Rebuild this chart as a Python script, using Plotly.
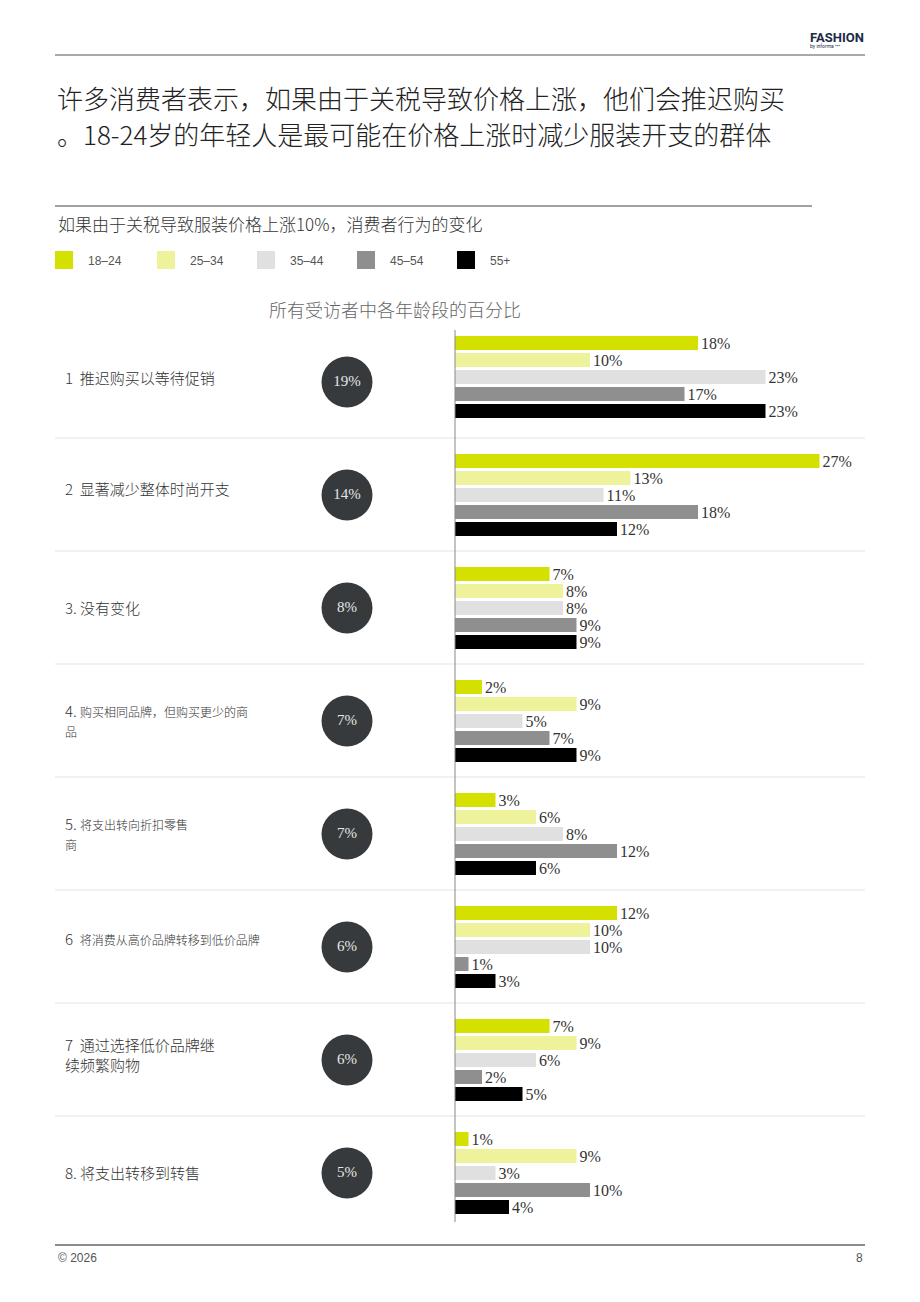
import plotly.graph_objects as go

# ---------------- data ----------------
age_groups = ["18–24", "25–34", "35–44", "45–54", "55+"]
categories = [
    "1  推迟购买以等待促销",
    "2  显著减少整体时尚开支",
    "3. 没有变化",
    "4. 购买相同品牌，但购买更少的商品",
    "5. 将支出转向折扣零售商",
    "6  将消费从高价品牌转移到低价品牌",
    "7  通过选择低价品牌继续频繁购物",
    "8. 将支出转移到转售",
]
overall = [19, 14, 8, 7, 7, 6, 6, 5]
v_18_24 = [18, 27, 7, 2, 3, 12, 7, 1]
v_25_34 = [10, 13, 8, 9, 6, 10, 9, 9]
v_35_44 = [23, 11, 8, 5, 8, 10, 6, 3]
v_45_54 = [17, 18, 9, 7, 12, 1, 2, 10]
v_55p = [23, 12, 9, 9, 6, 3, 5, 4]
series = [v_18_24, v_25_34, v_35_44, v_45_54, v_55p]

# ---------------- style / layout ----------------
W, H = 920, 1302
colors = ["#d3e000", "#edf29b", "#dfe0df", "#8f8f8f", "#000000"]
AX0 = 455          # pixel of the 0% baseline
PX_PER_PCT = 13.5
ROW0 = 382
ROW_STEP = 113
BAR_STEP = 17
BAR_H = 14
CIRCLE_X = 347
row_shift = [-5, 0, 0, 0, 0, 0, 0, 0]
CJK = "Noto Sans CJK SC"
SERIF = "Liberation Serif, Times New Roman, serif"
NARROW = "Liberation Sans Narrow, Liberation Sans, Arial, sans-serif"

centers = [ROW0 + i * ROW_STEP for i in range(len(categories))]

fig = go.Figure()
for j, (name, vals) in enumerate(zip(age_groups, series)):
    ys = [centers[i] + row_shift[i] + (j - 2) * BAR_STEP for i in range(len(vals))]
    fig.add_trace(go.Bar(
        x=vals, y=ys, orientation="h", name=name,
        marker=dict(color=colors[j], line=dict(width=0)),
        width=BAR_H,
        text=[f"{v}%" for v in vals], textposition="outside",
        textfont=dict(family=SERIF, size=16, color="#333333"),
        constraintext="none", cliponaxis=False,
        xaxis="x", yaxis="y", showlegend=False, hoverinfo="skip",
    ))

# overall circles
fig.add_trace(go.Scatter(
    x=[CIRCLE_X] * len(overall), y=centers, mode="markers+text",
    marker=dict(size=51, color="#373a3d", line=dict(width=0)),
    text=[f"{v}%" for v in overall], textposition="middle center",
    textfont=dict(family=SERIF, size=15, color="#e6e6e6"),
    xaxis="x2", yaxis="y", showlegend=False, hoverinfo="skip",
))

shapes = []
annotations = []

# header
shapes.append(dict(type="line", xref="paper", yref="y", x0=55 / W, x1=865 / W, y0=55, y1=55,
                   line=dict(color="#555555", width=1)))
annotations.append(dict(text="<b>FASHION</b>", xref="paper", yref="y", x=866 / W, y=37,
                        xanchor="right", yanchor="middle", showarrow=False,
                        font=dict(family="Roboto, Arial", size=13, color="#1b2a45")))
annotations.append(dict(text="by informa •••", xref="paper", yref="y", x=808 / W, y=46,
                        xanchor="left", yanchor="middle", showarrow=False,
                        font=dict(family="Roboto, Arial", size=5, color="#1b2a45")))

# title
title_lines = ["许多消费者表示，如果由于关税导致价格上涨，他们会推迟购买",
               "。18-24岁的年轻人是最可能在价格上涨时减少服装开支的群体"]
for k, t in enumerate(title_lines):
    annotations.append(dict(text=t, xref="paper", yref="y", x=55 / W, y=97 + k * 36,
                            xanchor="left", yanchor="middle", showarrow=False,
                            font=dict(family=CJK, size=26, color="#222222", weight=300)))

shapes.append(dict(type="line", xref="paper", yref="y", x0=55 / W, x1=812 / W, y0=206, y1=206,
                   line=dict(color="#444444", width=1)))
annotations.append(dict(text="如果由于关税导致服装价格上涨10%，消费者行为的变化", xref="paper", yref="y",
                        x=56 / W, y=223, xanchor="left", yanchor="middle", showarrow=False,
                        font=dict(family=CJK, size=17, color="#333333", weight=300)))

# legend
leg_x = [55, 157, 257, 357, 457]
for j, name in enumerate(age_groups):
    shapes.append(dict(type="rect", xref="paper", yref="y",
                       x0=leg_x[j] / W, x1=(leg_x[j] + 18) / W, y0=251, y1=269,
                       fillcolor=colors[j], line=dict(width=0)))
    annotations.append(dict(text=name, xref="paper", yref="y", x=(leg_x[j] + 31) / W, y=261,
                            xanchor="left", yanchor="middle", showarrow=False,
                            font=dict(family=NARROW, size=12, color="#555555")))

annotations.append(dict(text="所有受访者中各年龄段的百分比", xref="paper", yref="y", x=395 / W, y=309,
                        xanchor="center", yanchor="middle", showarrow=False,
                        font=dict(family=CJK, size=18, color="#666666", weight=300)))

# row labels
S = '<span style="font-size:15px">'
label_text = [
    "1  推迟购买以等待促销",
    "2  显著减少整体时尚开支",
    "3. 没有变化",
    S + "4.</span> <span style=\"font-size:12px\">购买相同品牌，但购买更少的商</span><br><span style=\"font-size:12px\">品</span>",
    S + "5.</span> <span style=\"font-size:12px\">将支出转向折扣零售</span><br><span style=\"font-size:12px\">商</span>",
    S + "6</span>  <span style=\"font-size:12px\">将消费从高价品牌转移到低价品牌</span>",
    "7  通过选择低价品牌继<br>续频繁购物",
    "8. 将支出转移到转售",
]
label_dy = [-5, -7, -1, -1, -1, -9, -6, -1]
for i, t in enumerate(label_text):
    annotations.append(dict(text=t, xref="paper", yref="y", x=63 / W, y=centers[i] + label_dy[i],
                            xanchor="left", yanchor="middle", align="left", showarrow=False,
                            font=dict(family=CJK, size=15, color="#333333", weight=300)))

# row separators
for i in range(len(categories) - 1):
    y = centers[i] + 56
    shapes.append(dict(type="line", xref="paper", yref="y", x0=55 / W, x1=865 / W, y0=y, y1=y,
                       line=dict(color="#e3e3e3", width=1)))

# baseline
shapes.append(dict(type="line", xref="paper", yref="y", x0=AX0 / W, x1=AX0 / W, y0=330, y1=1222,
                   line=dict(color="#888888", width=1)))

# footer
shapes.append(dict(type="line", xref="paper", yref="y", x0=55 / W, x1=865 / W, y0=1245, y1=1245,
                   line=dict(color="#666666", width=1.5)))
annotations.append(dict(text="© 2026", xref="paper", yref="y", x=56 / W, y=1258,
                        xanchor="left", yanchor="middle", showarrow=False,
                        font=dict(family=NARROW, size=12, color="#555555")))
annotations.append(dict(text="8", xref="paper", yref="y", x=865 / W, y=1258,
                        xanchor="right", yanchor="middle", showarrow=False,
                        font=dict(family=NARROW, size=12, color="#555555")))

fig.update_layout(
    width=W, height=H, margin=dict(l=0, r=0, t=0, b=0),
    paper_bgcolor="white", plot_bgcolor="rgba(0,0,0,0)",
    barmode="overlay", showlegend=False,
    xaxis=dict(domain=[AX0 / W, 1], range=[0, (W - AX0) / PX_PER_PCT], visible=False,
               fixedrange=True),
    xaxis2=dict(domain=[0, 1], range=[0, W], visible=False, anchor="y", fixedrange=True),
    yaxis=dict(domain=[0, 1], range=[H, 0], visible=False, fixedrange=True),
    shapes=shapes, annotations=annotations,
)

fig.write_html("out.html")
